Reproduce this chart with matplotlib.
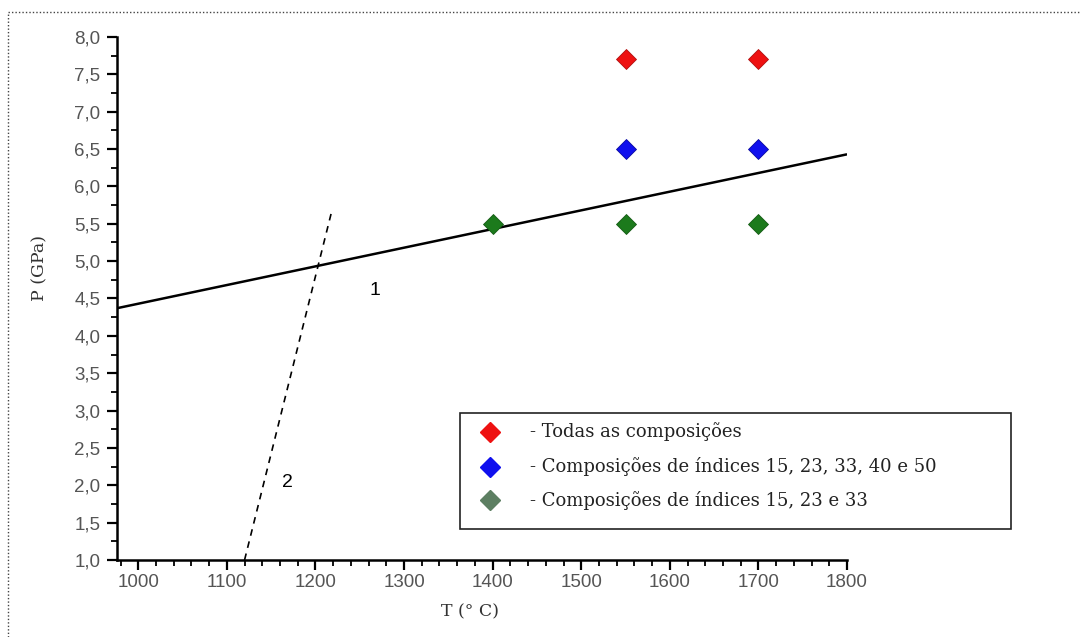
import matplotlib.pyplot as plt
from matplotlib.lines import Line2D
from matplotlib.patches import Rectangle
from matplotlib.ticker import MultipleLocator

# Experimental points (T in C, P in GPa)
redT = [1550, 1700]
redP = [7.7, 7.7]
blueT = [1550, 1700]
blueP = [6.5, 6.5]
greenT = [1400, 1550, 1700]
greenP = [5.5, 5.5, 5.5]

# Boundary lines
line1T = [976, 1800]
line1P = [4.37, 6.43]
line2T = [1120, 1218]
line2P = [1.0, 5.65]

legendLabels = ["- Todas as composições",
                "- Composições de índices 15, 23, 33, 40 e 50",
                "- Composições de índices 15, 23 e 33"]
legendColors = ["#ee1111", "#1010ee", "#5d7f62"]

fig = plt.figure(figsize=(10.8, 6.37), dpi=100)
ax = fig.add_axes([0.1083, 0.1209, 0.676, 0.821])

ax.plot(line1T, line1P, color="black", lw=1.8, solid_capstyle="butt")
ax.plot(line2T, line2P, color="black", lw=1.2, ls=(0, (4, 3.5)))

mk = dict(marker="D", ls="none", markersize=10.5, markeredgewidth=0.6)
ax.plot(redT, redP, color="#ee1111", markeredgecolor="#b01010", **mk)
ax.plot(blueT, blueP, color="#1010ee", markeredgecolor="#0a0aa0", **mk)
ax.plot(greenT, greenP, color="#1c7a1c", markeredgecolor="#145a14", **mk)

ax.text(1267, 4.61, "1", fontsize=14, family="Liberation Sans", ha="center", va="center")
ax.text(1168, 2.04, "2", fontsize=14, family="Liberation Sans", ha="center", va="center")

ax.set_xlim(976, 1800)
ax.set_ylim(1.0, 8.0)
ax.xaxis.set_major_locator(MultipleLocator(100))
ax.xaxis.set_minor_locator(MultipleLocator(20))
ax.yaxis.set_major_locator(MultipleLocator(0.5))
ax.yaxis.set_minor_locator(MultipleLocator(0.25))
ax.yaxis.set_major_formatter(plt.FuncFormatter(lambda v, p: ("%.1f" % v).replace(".", ",")))

for s in ["top", "right"]:
    ax.spines[s].set_visible(False)
for s in ["left", "bottom"]:
    ax.spines[s].set_linewidth(1.8)
ax.tick_params(which="major", direction="out", length=7, width=1.6, color="black",
               labelsize=13.5, labelcolor="#555555", pad=3)
ax.tick_params(axis="y", which="major", pad=5)
ax.tick_params(which="minor", direction="out", length=4, width=1.3, color="black")
for lab in ax.get_xticklabels() + ax.get_yticklabels():
    lab.set_family("Liberation Sans")

ax.set_xlabel("T (° C)", family="DejaVu Serif", fontsize=12.5, color="#333333")
ax.xaxis.set_label_coords((470 - 117) / 730, -(612 - 560) / 523)
ax.set_ylabel("P (GPa)", family="DejaVu Serif", fontsize=12.5, color="#333333")
ax.yaxis.set_label_coords((40 - 117) / 730, (560 - 268) / 523)
ax.yaxis.label.set_va("center")
ax.xaxis.label.set_va("center")

# legend box drawn in figure pixels
W, H = 1080, 637
fig.patches.append(Rectangle((460 / W, 1 - 529 / H), (1011 - 460) / W, (529 - 413) / H,
                             transform=fig.transFigure, fill=False, ec="#222222", lw=1.2))
rowY = [432, 467, 500]
for lbl, col, yy in zip(legendLabels, legendColors, rowY):
    fig.add_artist(Line2D([490 / W], [1 - yy / H], marker="D", color=col,
                          markersize=10, ls="none", transform=fig.transFigure))
    fig.text(530 / W, 1 - yy / H, lbl, family="DejaVu Serif", fontsize=13,
             color="#222222", va="center", ha="left")

# dotted page border (top and left)
fig.add_artist(Line2D([8 / W, 1], [1 - 12 / H, 1 - 12 / H], color="#444444", lw=1,
                      ls=(0, (1, 1.5)), transform=fig.transFigure))
fig.add_artist(Line2D([8 / W, 8 / W], [0, 1 - 12 / H], color="#444444", lw=1,
                      ls=(0, (1, 1.5)), transform=fig.transFigure))

fig.savefig("out.png", dpi=100)
